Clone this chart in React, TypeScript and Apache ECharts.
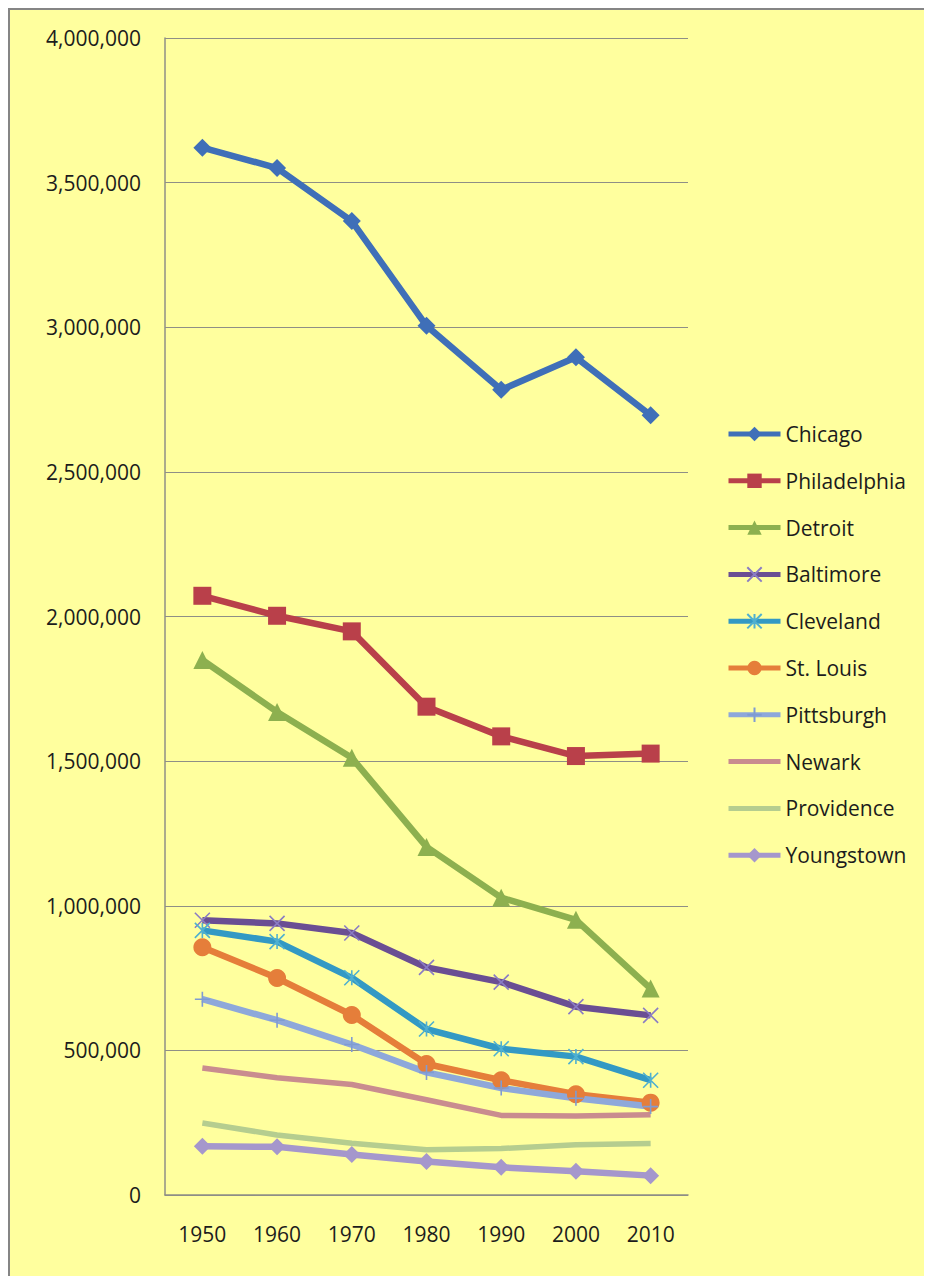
import React, { useEffect, useRef } from "react";
import * as echarts from "echarts";

const years = ["1950", "1960", "1970", "1980", "1990", "2000", "2010"];
const chicago = [3620962, 3550404, 3366957, 3005072, 2783726, 2896016, 2695598];
const philadelphia = [2071605, 2002512, 1948609, 1688210, 1585577, 1517550, 1526006];
const detroit = [1849568, 1670144, 1511482, 1203339, 1027974, 951270, 713777];
const baltimore = [949708, 939024, 905759, 786775, 736014, 651154, 620961];
const cleveland = [914808, 876050, 750903, 573822, 505616, 478403, 396815];
const stLouis = [856796, 750026, 622236, 452801, 396685, 348189, 319294];
const pittsburgh = [676806, 604332, 520117, 423938, 369879, 334563, 305704];
const newark = [438776, 405220, 381930, 329248, 275221, 273546, 277140];
const providence = [248674, 207498, 179213, 156804, 160728, 173618, 178042];
const youngstown = [168330, 166689, 139788, 115436, 95732, 82026, 66982];

const FONT = "'Open Sans', 'Noto Sans', sans-serif";
const TEXT = "#1c1c1c";
const GRID = "#8f8f86";

const X_PATH = "path://M0,0L16,16M16,0L0,16";
const STAR_PATH = "path://M0,0L16,16M16,0L0,16M8,0L8,16";
const PLUS_PATH = "path://M8,0L8,16M0,8L16,8";

type S = {
  name: string;
  data: number[];
  color: string;
  marker: string;
  symbol: string;
  size: number;
  width: number;
  stroke?: boolean;
};

const seriesDefs: S[] = [
  { name: "Chicago", data: chicago, color: "#3F6FB8", marker: "#3F6FB8", symbol: "diamond", size: 18, width: 6.5 },
  { name: "Philadelphia", data: philadelphia, color: "#B9404A", marker: "#B9404A", symbol: "rect", size: 18, width: 6.5 },
  { name: "Detroit", data: detroit, color: "#8DB04F", marker: "#8DB04F", symbol: "triangle", size: 18, width: 6.5 },
  { name: "Baltimore", data: baltimore, color: "#6A4E93", marker: "#8A7CC4", symbol: X_PATH, size: 15, width: 6.5, stroke: true },
  { name: "Cleveland", data: cleveland, color: "#3399C4", marker: "#4FB0D0", symbol: STAR_PATH, size: 15, width: 6.5, stroke: true },
  { name: "St. Louis", data: stLouis, color: "#E57E3A", marker: "#E57E3A", symbol: "circle", size: 18, width: 6.5 },
  { name: "Pittsburgh", data: pittsburgh, color: "#8EA8DA", marker: "#7F9BD2", symbol: PLUS_PATH, size: 15, width: 6.5, stroke: true },
  { name: "Newark", data: newark, color: "#C98C8F", marker: "#C98C8F", symbol: "none", size: 0, width: 5.5 },
  { name: "Providence", data: providence, color: "#B5CD8F", marker: "#B5CD8F", symbol: "none", size: 0, width: 5.5 },
  { name: "Youngstown", data: youngstown, color: "#A597CC", marker: "#A597CC", symbol: "diamond", size: 17, width: 6.5 },
];

export default function App() {
  const ref = useRef<HTMLDivElement>(null);

  useEffect(() => {
    document.documentElement.style.overflow = "hidden";
    document.body.style.overflow = "hidden";
    if (!ref.current) return;
    const chart = echarts.init(ref.current, null, { renderer: "svg" });

    const series = seriesDefs.map((s) => ({
      name: s.name,
      type: "line",
      data: s.data,
      symbol: s.symbol,
      symbolSize: s.size,
      showSymbol: s.symbol !== "none",
      showAllSymbol: true,
      lineStyle: { color: s.color, width: s.width },
      itemStyle: s.stroke
        ? { color: "rgba(0,0,0,0)", borderColor: s.marker, borderWidth: 1.6 }
        : { color: s.marker, borderColor: s.marker, borderWidth: 0 },
      emphasis: { disabled: true },
      z: 2,
    }));

    chart.setOption({
      animation: false,
      backgroundColor: "transparent",
      grid: { left: 155, top: 28, width: 523, height: 1157 },
      legend: {
        orient: "vertical",
        left: 711,
        top: 408,
        itemWidth: 52,
        itemHeight: 18,
        itemGap: 24.8,
        lineStyle: { width: 5 },
        textStyle: { fontFamily: FONT, fontSize: 21, color: TEXT, lineHeight: 22 },
        data: seriesDefs.map((s) =>
          s.symbol === "none" ? { name: s.name, itemStyle: { opacity: 0 } } : { name: s.name }
        ),
      },
      xAxis: {
        type: "category",
        data: years,
        boundaryGap: true,
        axisLine: { show: true, lineStyle: { color: GRID, width: 1.5 } },
        axisTick: { show: false },
        axisLabel: { fontFamily: FONT, fontSize: 21, color: TEXT, margin: 28 },
        splitLine: { show: false },
      },
      yAxis: {
        type: "value",
        min: 0,
        max: 4000000,
        interval: 500000,
        axisLine: { show: true, lineStyle: { color: GRID, width: 1.5 } },
        axisTick: { show: false },
        axisLabel: {
          fontFamily: FONT,
          fontSize: 21,
          color: TEXT,
          margin: 24,
          formatter: (v: number) => v.toLocaleString("en-US"),
        },
        splitLine: { show: true, lineStyle: { color: GRID, width: 1.2 } },
      },
      series,
    });

    return () => chart.dispose();
  }, []);

  return (
    <div
      style={{
        width: 940,
        height: 1280,
        boxSizing: "border-box",
        borderLeft: "2px solid #858585",
        borderTop: "2px solid #858585",
        background: "#FFFF9E",
      }}
    >
      <div ref={ref} style={{ width: 922, height: 1266 }} />
    </div>
  );
}
